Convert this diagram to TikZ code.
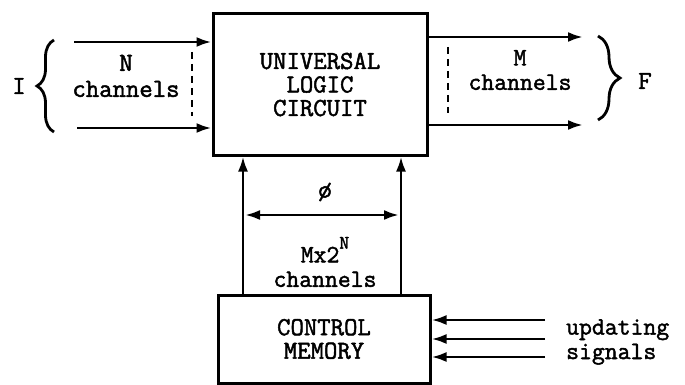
\documentclass[tikz,border=0pt]{standalone}
\usepackage{fontspec}
\setmonofont{Latin Modern Mono}[FakeBold=1.8]
\usetikzlibrary{arrows.meta,decorations.pathreplacing}
\begin{document}
\begin{tikzpicture}[x=1pt,y=-1pt,
  ln/.style={line width=2.8pt},
  arr/.style={ln,-{Latex[length=15pt,width=10pt]}},
  dbl/.style={ln,{Latex[length=15pt,width=10pt]}-{Latex[length=15pt,width=10pt]}},
  dsh/.style={line width=2.8pt,dash pattern=on 7pt off 5pt},
  box/.style={draw,line width=3pt,inner sep=0pt},
  txt/.style={font=\fontsize{26}{23.5}\selectfont\ttfamily,inner sep=0pt,align=center},
  two/.style={font=\fontsize{25}{24.5}\selectfont\ttfamily},
  brc/.style={line width=2.8pt,decorate}]
\useasboundingbox (0,0) rectangle (685,385);
% boxes
\node[box,txt,minimum width=214pt,minimum height=141pt] (ulc) at (320,84.5)
  {UNIVERSAL\\LOGIC\\CIRCUIT};
\node[box,txt,minimum width=212pt,minimum height=88pt] (cm) at (324,339)
  {CONTROL\\MEMORY};
% inputs
\coordinate (i1) at (74,42);
\coordinate (i2) at (77,128);
\draw[arr] (i1) -- (ulc.west |- i1);
\draw[arr] (i2) -- (ulc.west |- i2);
\coordinate (d1a) at (192,52); \coordinate (d1b) at (192,116);
\draw[dsh] (d1a) -- (d1b);
\node[txt,font=\fontsize{26}{26}\selectfont\ttfamily] (nch1) at (126,76) {N\\channels};
\draw[brc,decoration={brace,amplitude=17pt}] (54,132) -- (54,40);
\node[txt] (nI) at (19,86) {I};
% outputs
\coordinate (o1) at (583,37);
\coordinate (o2) at (583,125);
\draw[arr] (ulc.east |- o1) -- (o1);
\draw[arr] (ulc.east |- o2) -- (o2);
\coordinate (d2a) at (448,47); \coordinate (d2b) at (448,113);
\draw[dsh] (d2a) -- (d2b);
\node[txt,two] (nch2) at (520,70) {M\\channels};
\draw[brc,decoration={brace,amplitude=22pt}] (598,36) -- (598,120);
\node[txt] (nF) at (645,81) {F};
% vertical arrows
\coordinate (vl) at (243,220);
\coordinate (vr) at (401,220);
\draw[arr] (cm.north -| vl) -- (ulc.south -| vl);
\draw[arr] (cm.north -| vr) -- (ulc.south -| vr);
\coordinate (hl) at (245,215);
\coordinate (hr) at (399,215);
\draw[dbl] (hl) -- (hr);
\node[txt] (nphi) at (325,192) {ø};
\node[txt,two] (nmx) at (325,262)
  {Mx2\raisebox{0.55em}{\fontsize{19}{19}\selectfont N}\\channels};
% updating signals
\coordinate (u1) at (545,320);
\coordinate (u2) at (545,339);
\coordinate (u3) at (545,357);
\draw[arr] (u1) -- (cm.east |- u1);
\draw[arr] (u2) -- (cm.east |- u2);
\draw[arr] (u3) -- (cm.east |- u3);
\node[txt,two,align=left,anchor=west] (nup) at (566,342) {updating\\signals};
\end{tikzpicture}
\end{document}
